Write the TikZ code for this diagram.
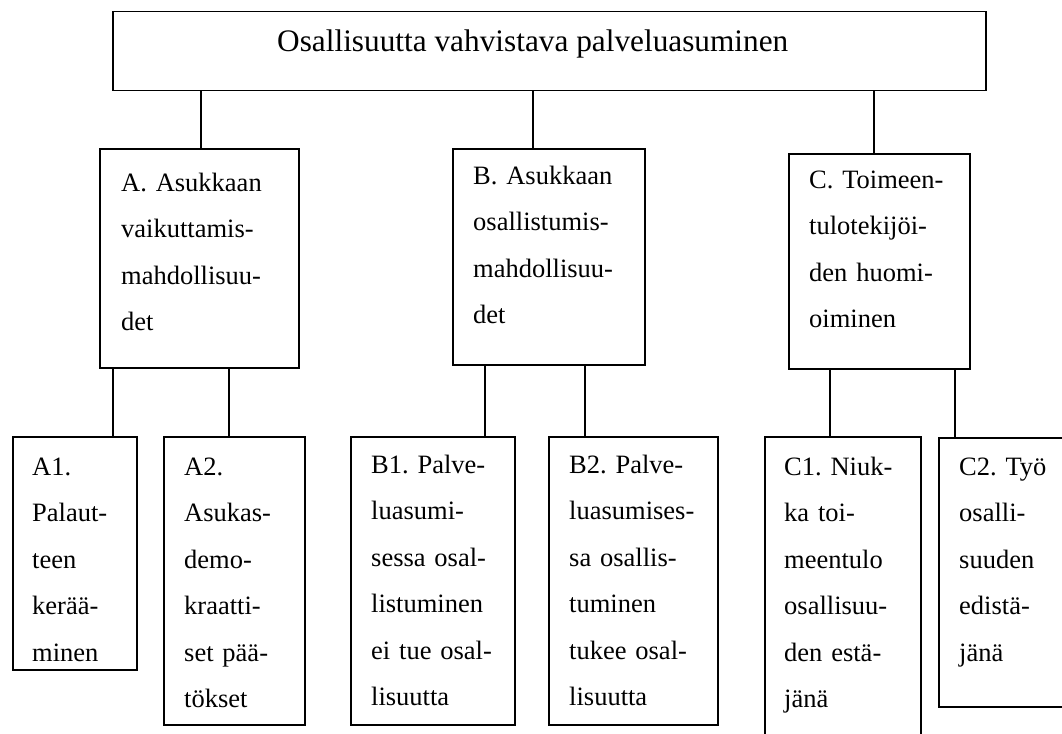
\documentclass[tikz,border=0pt]{standalone}
\usepackage{fontspec}
\setmainfont{Liberation Serif}
\frenchspacing
\begin{document}
\begin{tikzpicture}[x=1pt,y=-1pt,
  box/.style={draw, line width=1.5pt, inner sep=0pt, anchor=north west},
  txt/.style={anchor=base west, inner sep=0pt, align=left, text width=200pt,
    font=\fontsize{26.5}{46.5}\selectfont\frenchspacing},
  link/.style={line width=1.5pt}]
\clip (0,0) rectangle (1062,733);
\useasboundingbox (0,0) rectangle (1062,733);
\fill[white] (0,0) rectangle (1062,733);
% top
\node[box, minimum width=873pt, minimum height=79pt] (top) at (112,11) {};
\node[anchor=base west, inner sep=0pt, font=\fontsize{31.3}{36}\selectfont] (toptxt) at (277,52) {Osallisuutta vahvistava palveluasuminen};
% second level
\node[box, minimum width=199pt, minimum height=219pt] (A) at (99,148) {};
\node[box, minimum width=192pt, minimum height=216pt] (B) at (452,148) {};
\node[box, minimum width=181pt, minimum height=215pt] (C) at (788,153) {};
\node[txt] (Atxt) at (121,191) {A. Asukkaan\\vaikuttamis-\\mahdollisuu-\\det};
\node[txt] (Btxt) at (473,184) {B. Asukkaan\\osallistumis-\\mahdollisuu-\\det};
\node[txt] (Ctxt) at (809,188) {C. Toimeen-\\tulotekijöi-\\den huomi-\\oiminen};
% third level
\node[box, minimum width=124pt, minimum height=233pt] (A1) at (12,436) {};
\node[box, minimum width=141pt, minimum height=288pt] (A2) at (163,436) {};
\node[box, minimum width=164pt, minimum height=288pt] (B1) at (350,436) {};
\node[box, minimum width=169pt, minimum height=288pt] (B2) at (548,436) {};
\node[box, minimum width=156pt, minimum height=340pt] (C1) at (764,436) {};
\node[box, minimum width=200pt, minimum height=269pt] (C2) at (938,437) {};
\node[txt] (A1txt) at (32,475) {A1.\\Palaut-\\teen\\kerää-\\minen};
\node[txt] (A2txt) at (184,475) {A2.\\Asukas-\\demo-\\kraatti-\\set pää-\\tökset};
\node[txt] (B1txt) at (371,473) {B1. Palve-\\luasumi-\\sessa osal-\\listuminen\\ei tue osal-\\lisuutta};
\node[txt] (B2txt) at (569,473) {B2. Palve-\\luasumises-\\sa osallis-\\tuminen\\tukee osal-\\lisuutta};
\node[txt] (C1txt) at (784,475) {C1. Niuk-\\ka toi-\\meentulo\\osallisuu-\\den estä-\\jänä};
\node[txt] (C2txt) at (959,475) {C2. Työ\\osalli-\\suuden\\edistä-\\jänä};
% connectors
\draw[link] ([xshift=1.5pt]A.north) -- ([xshift=1.5pt]A.north |- top.south);
\draw[link] ([xshift=-16pt]B.north) -- ([xshift=-16pt]B.north |- top.south);
\draw[link] ([xshift=-5.5pt]C.north) -- ([xshift=-5.5pt]C.north |- top.south);
\draw[link] ([xshift=38pt]A1.north) -- ([xshift=38pt]A1.north |- A.south);
\draw[link] ([xshift=-5.5pt]A2.north) -- ([xshift=-5.5pt]A2.north |- A.south);
\draw[link] ([xshift=52pt]B1.north) -- ([xshift=52pt]B1.north |- B.south);
\draw[link] ([xshift=-48.5pt]B2.north) -- ([xshift=-48.5pt]B2.north |- B.south);
\draw[link] ([xshift=-13pt]C1.north) -- ([xshift=-13pt]C1.north |- C.south);
\draw[link] ([xshift=-84pt]C2.north) -- ([xshift=-84pt,yshift=2pt]C2.north |- C.south);
\end{tikzpicture}
\end{document}
